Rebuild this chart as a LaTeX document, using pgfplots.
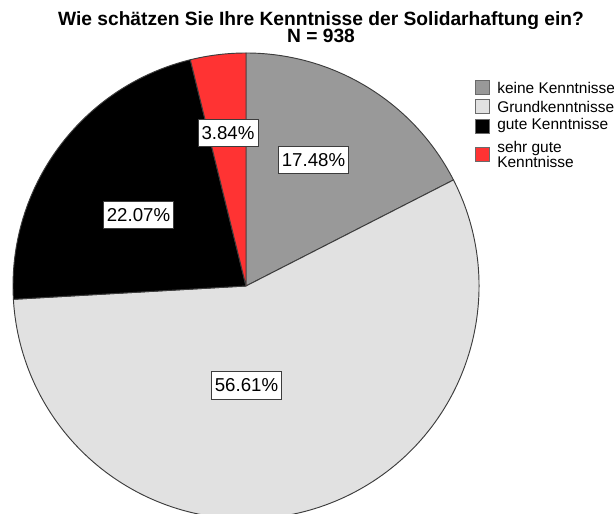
\documentclass[border=0pt]{standalone}
\usepackage{pgfplots}
\usepackage{pgfplotstable}
\pgfplotsset{compat=1.18}
\usepackage{fontspec}
\setmainfont{Liberation Sans}
\definecolor{cKeine}{HTML}{999999}
\definecolor{cGrund}{HTML}{E1E1E1}
\definecolor{cGute}{HTML}{000000}
\definecolor{cSehr}{HTML}{FF3333}
\definecolor{edgecol}{HTML}{3C3C3C}
\definecolor{legedge}{HTML}{6A6A6A}

\pgfplotstableread{
value color
17.48 cKeine
56.61 cGrund
22.07 cGute
3.84 cSehr
}\piedata

\begin{document}
\begin{tikzpicture}
\begin{axis}[
  scale only axis, width=460.5pt, height=385.5pt,
  xmin=0, xmax=614, ymin=0, ymax=514,
  hide axis, clip=true,
]
% wedges, clockwise from 12 o'clock
\pgfplotstablegetrowsof{\piedata}
\pgfmathtruncatemacro\nrows{\pgfplotsretval-1}
\xdef\angA{90}
\foreach \i in {0,...,\nrows}{
  \pgfplotstablegetelem{\i}{value}\of\piedata \let\v\pgfplotsretval
  \pgfplotstablegetelem{\i}{color}\of\piedata \let\c\pgfplotsretval
  \pgfmathsetmacro\angB{\angA-3.6*\v}
  \edef\wedge{\noexpand\filldraw[fill=\c,draw=edgecol,line width=0.7pt,line join=round]
    (axis cs:246,228) -- ([shift={(\angA:174.75pt)}]axis cs:246,228)
    arc[start angle=\angA,end angle=\angB,radius=174.75pt] -- cycle;}
  \wedge
  \xdef\angA{\angB}
}
% value labels
\tikzset{vlab/.style={fill=white,draw=edgecol,line width=0.6pt,inner xsep=2.6pt,
  minimum height=20.5pt,font=\fontsize{14pt}{16pt}\selectfont}}
\node[vlab] at (axis cs:313.5,354) {17.48\%};
\node[vlab] at (axis cs:228,381) {3.84\%};
\node[vlab] at (axis cs:138.5,299) {22.07\%};
\node[vlab] at (axis cs:246.5,128.5) {56.61\%};
% title
\node[anchor=base,font=\bfseries\fontsize{14.4pt}{17pt}\selectfont] at (axis cs:321,488.5)
  {Wie schätzen Sie Ihre Kenntnisse der Solidarhaftung ein?};
\node[anchor=base,font=\bfseries\fontsize{14.4pt}{17pt}\selectfont] at (axis cs:321,471)
  {N = 938};
% legend
\tikzset{lsq/.style={draw=legedge,line width=0.7pt,minimum size=10.5pt,inner sep=0pt},
  ltx/.style={anchor=west,inner sep=0pt,align=left,font=\fontsize{11.6pt}{9.75pt}\selectfont}}
\node[lsq,fill=cKeine] at (axis cs:482.5,426.5) {};
\node[lsq,fill=cGrund] at (axis cs:482.5,407.5) {};
\node[lsq,fill=cGute] at (axis cs:482.5,388) {};
\node[lsq,fill=cSehr] at (axis cs:482.5,360) {};
\node[ltx] at (axis cs:497,426.5) {keine Kenntnisse};
\node[ltx] at (axis cs:497,407.5) {Grundkenntnisse};
\node[ltx] at (axis cs:497,388) {gute Kenntnisse};
\node[ltx] at (axis cs:497,359.5) {sehr gute\\Kenntnisse};
\end{axis}
\pgfresetboundingbox
\path (0,0) rectangle (460.5pt,385.5pt);
\end{tikzpicture}
\end{document}
